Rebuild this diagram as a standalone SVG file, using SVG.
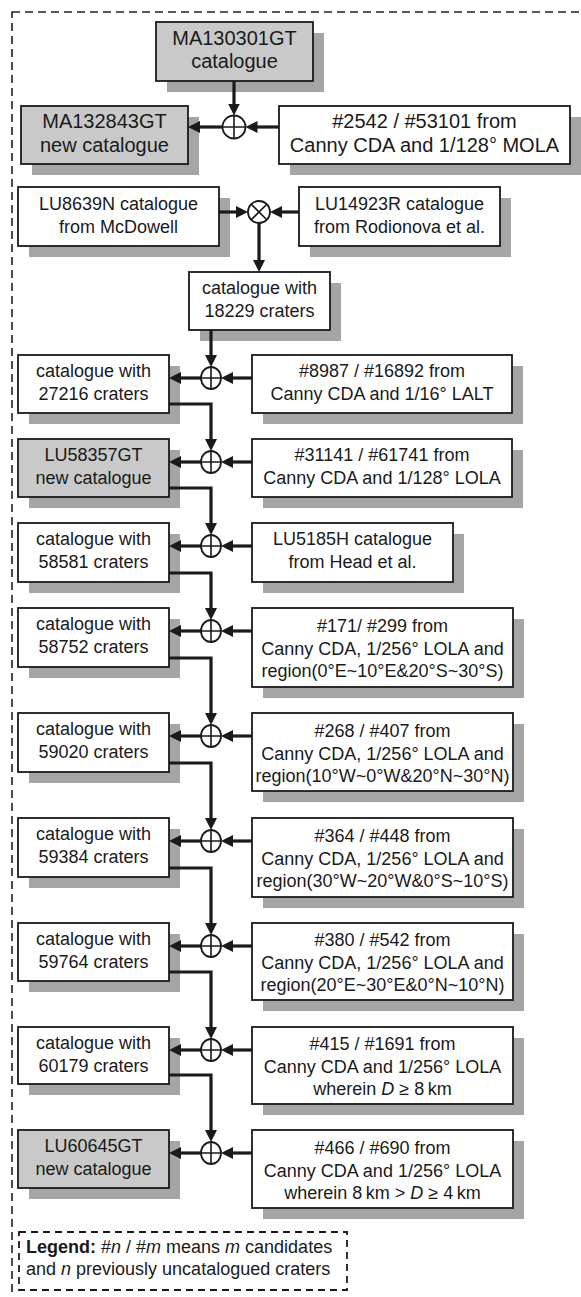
<svg xmlns="http://www.w3.org/2000/svg" width="581" height="1297" viewBox="0 0 581 1297">
<style>
.frame{fill:none;stroke:#222;stroke-width:1.6;stroke-dasharray:8 5}
.sh{fill:#a5a5a5}
.bx{fill:#fff;stroke:#1a1a1a;stroke-width:1.8}
.gbx{fill:#c9c9c9;stroke:#1a1a1a;stroke-width:1.8}
text{font-family:"Liberation Sans",Arial,Helvetica,sans-serif;font-size:18px;fill:#1a1a1a;text-anchor:middle}
.big{font-size:20px}
.c{fill:#fff;stroke:#1a1a1a;stroke-width:1.8}
.con{fill:none;stroke:#1a1a1a;stroke-width:3.2;marker-end:url(#ah)}
.it{font-style:italic}
</style>
<defs>
<marker id="ah" viewBox="0 0 12 12" refX="4" refY="6" markerWidth="12" markerHeight="12" markerUnits="userSpaceOnUse" orient="auto">
<path d="M0,0 L12,6 L0,12 z" fill="#1a1a1a"/>
</marker>
</defs>
<rect x="0" y="0" width="581" height="1297" fill="#fff"/>
<rect class="frame" x="12" y="12" width="620" height="1320"/>

<g id="ma130301gt"><rect class="sh" x="167" y="33" width="157" height="59"/><rect class="gbx" x="156" y="22" width="157" height="59"/>
<text class="big" x="234.5" y="45">MA130301GT</text><text class="big" x="234.5" y="68">catalogue</text></g>
<g id="ma132843gt"><rect class="sh" x="32" y="117" width="167" height="58"/><rect class="gbx" x="21" y="106" width="167" height="58"/>
<text class="big" x="104.5" y="128">MA132843GT</text><text class="big" x="104.5" y="152">new catalogue</text></g>
<g id="mola"><rect class="sh" x="290" y="117" width="291" height="58"/><rect class="bx" x="279" y="106" width="291" height="58"/>
<text class="big" x="424.5" y="128">#2542 / #53101 from</text><text class="big" x="424.5" y="152">Canny CDA and 1/128° MOLA</text></g>

<g id="lu8639n"><rect class="sh" x="29" y="198" width="201" height="59"/><rect class="bx" x="18" y="187" width="201" height="59"/>
<text x="118.5" y="210">LU8639N catalogue</text><text x="118.5" y="233">from McDowell</text></g>
<g id="lu14923r"><rect class="sh" x="310" y="198" width="201" height="59"/><rect class="bx" x="299" y="187" width="201" height="59"/>
<text x="399.5" y="210">LU14923R catalogue</text><text x="399.5" y="233">from Rodionova et al.</text></g>
<g id="cat18229"><rect class="sh" x="200" y="283" width="141" height="58"/><rect class="bx" x="189" y="272" width="141" height="58"/>
<text x="259.5" y="294">catalogue with</text><text x="259.5" y="317">18229 craters</text></g>

<g id="cat27216"><rect class="sh" x="29" y="366" width="151" height="58"/><rect class="bx" x="18" y="355" width="151" height="58"/>
<text x="93.5" y="377">catalogue with</text><text x="93.5" y="400">27216 craters</text></g>
<g id="lalt"><rect class="sh" x="263" y="366" width="260" height="58"/><rect class="bx" x="252" y="355" width="260" height="58"/>
<text x="382" y="377">#8987 / #16892 from</text><text x="382" y="400">Canny CDA and 1/16° LALT</text></g>

<g id="lu58357gt"><rect class="sh" x="29" y="450" width="151" height="58"/><rect class="gbx" x="18" y="439" width="151" height="58"/>
<text x="93.5" y="461">LU58357GT</text><text x="93.5" y="484">new catalogue</text></g>
<g id="lola128"><rect class="sh" x="263" y="450" width="260" height="58"/><rect class="bx" x="252" y="439" width="260" height="58"/>
<text x="382" y="461">#31141 / #61741 from</text><text x="382" y="484">Canny CDA and 1/128° LOLA</text></g>

<g id="cat58581"><rect class="sh" x="29" y="534" width="151" height="59"/><rect class="bx" x="18" y="523" width="151" height="59"/>
<text x="93.5" y="545">catalogue with</text><text x="93.5" y="568">58581 craters</text></g>
<g id="lu5185h"><rect class="sh" x="263" y="534" width="201" height="59"/><rect class="bx" x="252" y="523" width="201" height="59"/>
<text x="352.5" y="545">LU5185H catalogue</text><text x="352.5" y="568">from Head et al.</text></g>

<g id="cat58752"><rect class="sh" x="29" y="619" width="151" height="59"/><rect class="bx" x="18" y="608" width="151" height="59"/>
<text x="93.5" y="630">catalogue with</text><text x="93.5" y="653">58752 craters</text></g>
<g id="reg1"><rect class="sh" x="263" y="619" width="261" height="79"/><rect class="bx" x="252" y="608" width="261" height="79"/>
<text x="382.5" y="632">#171/ #299 from</text><text x="382.5" y="655">Canny CDA, 1/256° LOLA and</text><text x="382.5" y="677">region(0°E~10°E&amp;20°S~30°S)</text></g>

<g id="cat59020"><rect class="sh" x="29" y="724" width="151" height="59"/><rect class="bx" x="18" y="713" width="151" height="59"/>
<text x="93.5" y="735">catalogue with</text><text x="93.5" y="758">59020 craters</text></g>
<g id="reg2"><rect class="sh" x="263" y="724" width="261" height="78"/><rect class="bx" x="252" y="713" width="261" height="78"/>
<text x="382.5" y="737">#268 / #407 from</text><text x="382.5" y="760">Canny CDA, 1/256° LOLA and</text><text x="382.5" y="782">region(10°W~0°W&amp;20°N~30°N)</text></g>

<g id="cat59384"><rect class="sh" x="29" y="829" width="151" height="59"/><rect class="bx" x="18" y="818" width="151" height="59"/>
<text x="93.5" y="840">catalogue with</text><text x="93.5" y="863">59384 craters</text></g>
<g id="reg3"><rect class="sh" x="263" y="829" width="261" height="79"/><rect class="bx" x="252" y="818" width="261" height="79"/>
<text x="382.5" y="842">#364 / #448 from</text><text x="382.5" y="865">Canny CDA, 1/256° LOLA and</text><text x="382.5" y="887">region(30°W~20°W&amp;0°S~10°S)</text></g>

<g id="cat59764"><rect class="sh" x="29" y="934" width="151" height="58"/><rect class="bx" x="18" y="923" width="151" height="58"/>
<text x="93.5" y="945">catalogue with</text><text x="93.5" y="968">59764 craters</text></g>
<g id="reg4"><rect class="sh" x="263" y="934" width="261" height="77"/><rect class="bx" x="252" y="923" width="261" height="77"/>
<text x="382.5" y="946">#380 / #542 from</text><text x="382.5" y="969">Canny CDA, 1/256° LOLA and</text><text x="382.5" y="991">region(20°E~30°E&amp;0°N~10°N)</text></g>

<g id="cat60179"><rect class="sh" x="29" y="1038" width="151" height="57"/><rect class="bx" x="18" y="1027" width="151" height="57"/>
<text x="93.5" y="1049">catalogue with</text><text x="93.5" y="1072">60179 craters</text></g>
<g id="d8"><rect class="sh" x="263" y="1038" width="261" height="77"/><rect class="bx" x="252" y="1027" width="261" height="77"/>
<text x="382.5" y="1050">#415 / #1691 from</text><text x="382.5" y="1073">Canny CDA and 1/256° LOLA</text><text x="382.5" y="1095">wherein <tspan class="it">D</tspan> ≥ 8&#8201;km</text></g>

<g id="lu60645gt"><rect class="sh" x="29" y="1141" width="151" height="58"/><rect class="gbx" x="18" y="1130" width="151" height="58"/>
<text x="93.5" y="1152">LU60645GT</text><text x="93.5" y="1175">new catalogue</text></g>
<g id="d4"><rect class="sh" x="263" y="1141" width="261" height="78"/><rect class="bx" x="252" y="1130" width="261" height="78"/>
<text x="382.5" y="1154">#466 / #690 from</text><text x="382.5" y="1177">Canny CDA and 1/256° LOLA</text><text x="382.5" y="1199">wherein 8&#8201;km &gt; <tspan class="it">D</tspan> ≥ 4&#8201;km</text></g>

<g id="legend"><rect x="19" y="1232" width="328" height="58" fill="none" stroke="#1a1a1a" stroke-width="1.8" stroke-dasharray="7 5"/>
<text x="26" y="1253" style="text-anchor:start"><tspan font-weight="bold">Legend:</tspan> #<tspan class="it">n</tspan> / #<tspan class="it">m</tspan> means <tspan class="it">m</tspan> candidates</text>
<text x="26" y="1275" style="text-anchor:start">and <tspan class="it">n</tspan> previously uncatalogued craters</text></g>

<g id="connectors">
<path class="con" d="M234,81 V107.5"/>
<path class="con" d="M222.5,127 H196"/>
<path class="con" d="M279,127 H253.5"/>
<path class="con" d="M219,212 H240"/>
<path class="con" d="M299,212 H278"/>
<path class="con" d="M259,223 V264"/>
<path class="con" d="M211,330 V359"/>
<path class="con" d="M201,378 H177"/><path class="con" d="M252,378 H229"/>
<path class="con" d="M169,404 H211 V443"/>
<path class="con" d="M201,462 H177"/><path class="con" d="M252,462 H229"/>
<path class="con" d="M169,488 H211 V527"/>
<path class="con" d="M201,546 H177"/><path class="con" d="M252,546 H229"/>
<path class="con" d="M169,573 H211 V612"/>
<path class="con" d="M201,631 H177"/><path class="con" d="M252,631 H229"/>
<path class="con" d="M169,658 H211 V717"/>
<path class="con" d="M201,736 H177"/><path class="con" d="M252,736 H229"/>
<path class="con" d="M169,763 H211 V822"/>
<path class="con" d="M201,841 H177"/><path class="con" d="M252,841 H229"/>
<path class="con" d="M169,868 H211 V927"/>
<path class="con" d="M201,946 H177"/><path class="con" d="M252,946 H229"/>
<path class="con" d="M169,972 H211 V1031"/>
<path class="con" d="M201,1050 H177"/><path class="con" d="M252,1050 H229"/>
<path class="con" d="M169,1075 H211 V1134"/>
<path class="con" d="M201,1153 H177"/><path class="con" d="M252,1153 H229"/>
</g>

<g id="sum0"><circle class="c" cx="234" cy="127" r="11.5"/><path d="M222.5,127 H245.5 M234,115.5 V138.5" stroke="#1a1a1a" stroke-width="1.6"/></g>
<g id="mul0"><circle class="c" cx="259" cy="212" r="11"/><path d="M251.2,204.2 L266.8,219.8 M266.8,204.2 L251.2,219.8" stroke="#1a1a1a" stroke-width="1.6"/></g>
<g id="sum1"><ellipse class="c" cx="211" cy="378" rx="10" ry="11"/><path d="M201,378 H221 M211,367 V389" stroke="#1a1a1a" stroke-width="1.6"/></g>
<g id="sum2"><ellipse class="c" cx="211" cy="462" rx="10" ry="11"/><path d="M201,462 H221 M211,451 V473" stroke="#1a1a1a" stroke-width="1.6"/></g>
<g id="sum3"><ellipse class="c" cx="211" cy="546" rx="10" ry="11"/><path d="M201,546 H221 M211,535 V557" stroke="#1a1a1a" stroke-width="1.6"/></g>
<g id="sum4"><ellipse class="c" cx="211" cy="631" rx="10" ry="11"/><path d="M201,631 H221 M211,620 V642" stroke="#1a1a1a" stroke-width="1.6"/></g>
<g id="sum5"><ellipse class="c" cx="211" cy="736" rx="10" ry="11"/><path d="M201,736 H221 M211,725 V747" stroke="#1a1a1a" stroke-width="1.6"/></g>
<g id="sum6"><ellipse class="c" cx="211" cy="841" rx="10" ry="11"/><path d="M201,841 H221 M211,830 V852" stroke="#1a1a1a" stroke-width="1.6"/></g>
<g id="sum7"><ellipse class="c" cx="211" cy="946" rx="10" ry="11"/><path d="M201,946 H221 M211,935 V957" stroke="#1a1a1a" stroke-width="1.6"/></g>
<g id="sum8"><ellipse class="c" cx="211" cy="1050" rx="10" ry="11"/><path d="M201,1050 H221 M211,1039 V1061" stroke="#1a1a1a" stroke-width="1.6"/></g>
<g id="sum9"><ellipse class="c" cx="211" cy="1153" rx="10" ry="11"/><path d="M201,1153 H221 M211,1142 V1164" stroke="#1a1a1a" stroke-width="1.6"/></g>
</svg>
